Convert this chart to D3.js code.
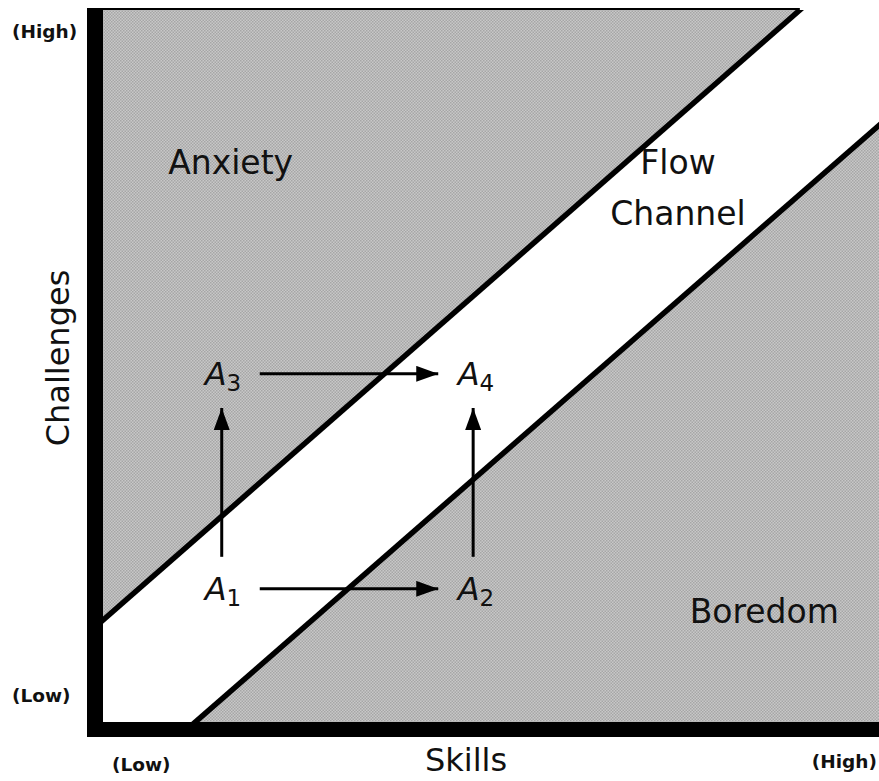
<!DOCTYPE html>
<html>
<head>
<meta charset="utf-8">
<script src="https://cdn.jsdelivr.net/npm/d3@7"></script>
<style>
  body { margin: 0; background: #fff; }
  svg text { font-family: "DejaVu Sans", sans-serif; fill: #111; }
</style>
</head>
<body>
<script>
// chart values (skill / challenge, 0..100)
const axisTitles = ["Skills", "Challenges"];
const tickLabels = ["(Low)", "(High)"];
const upperEdge = [[0, 14.3], [89.8, 100]];   // anxiety / flow border
const lowerEdge = [[11.9, 0], [100, 83.8]];   // flow / boredom border
const regions = [
  {lines: ["Anxiety"], x: 8.4, y: 76.9},
  {lines: ["Flow", "Channel"], x: 74.1, y: 76.9},
  {lines: ["Boredom"], x: 75.6, y: 13.9}
];
const states = [
  {id: "1", skill: 13.1, chal: 17.1},
  {id: "2", skill: 45.7, chal: 17.1},
  {id: "3", skill: 13.1, chal: 47.3},
  {id: "4", skill: 45.7, chal: 47.3}
];
const moves = [
  {x1: 20.2, y1: 18.7, x2: 43.2, y2: 18.7},
  {x1: 20.2, y1: 48.9, x2: 43.2, y2: 48.9},
  {x1: 15.3, y1: 23.2, x2: 15.3, y2: 44.1},
  {x1: 47.7, y1: 23.2, x2: 47.7, y2: 44.1}
];

const W = 879, H = 781;
const svg = d3.select('body').append('svg')
  .attr('width', W)
  .attr('height', H);

const x = d3.scaleLinear().domain([0, 100]).range([103, 879]);
const y = d3.scaleLinear().domain([0, 100]).range([722, 10]);

// dotted grey fill
const defs = svg.append('defs');
const pat = defs.append('pattern')
  .attr('id', 'dots')
  .attr('width', 3).attr('height', 3)
  .attr('patternUnits', 'userSpaceOnUse');
pat.append('rect').attr('width', 3).attr('height', 3).attr('fill', '#c8c8c8');
pat.append('rect').attr('width', 1.5).attr('height', 1.5).attr('fill', '#a6a6a6');
pat.append('rect').attr('x', 1.5).attr('y', 1.5).attr('width', 1.5).attr('height', 1.5).attr('fill', '#a6a6a6');

defs.append('clipPath').attr('id', 'plot')
  .append('rect')
  .attr('x', x(0)).attr('y', y(100))
  .attr('width', x(100) - x(0)).attr('height', y(0) - y(100));

defs.append('marker')
  .attr('id', 'head')
  .attr('markerUnits', 'userSpaceOnUse')
  .attr('viewBox', '0 -8 22 16')
  .attr('refX', 22).attr('refY', 0)
  .attr('markerWidth', 22).attr('markerHeight', 16)
  .attr('orient', 'auto')
  .append('path')
  .attr('d', 'M0,-8L22,0L0,8Z')
  .attr('fill', '#000');

svg.append('rect')
  .attr('x', x(0)).attr('y', y(100))
  .attr('width', x(100) - x(0)).attr('height', y(0) - y(100))
  .attr('fill', 'url(#dots)');

// white channel between the two borders
const ext = (p, q, t) => [p[0] + (q[0] - p[0]) * t, p[1] + (q[1] - p[1]) * t];
const band = [
  ext(upperEdge[0], upperEdge[1], -0.5),
  ext(upperEdge[0], upperEdge[1], 1.5),
  ext(lowerEdge[0], lowerEdge[1], 1.5),
  ext(lowerEdge[0], lowerEdge[1], -0.5)
];
const g = svg.append('g').attr('clip-path', 'url(#plot)');
g.append('path')
  .attr('d', d3.line().x(d => x(d[0])).y(d => y(d[1]))(band) + 'Z')
  .attr('fill', '#fff');

g.selectAll('line.edge')
  .data([upperEdge, lowerEdge])
  .enter()
  .append('line')
  .attr('class', 'edge')
  .attr('x1', d => x(ext(d[0], d[1], -0.1)[0]))
  .attr('y1', d => y(ext(d[0], d[1], -0.1)[1]))
  .attr('x2', d => x(ext(d[0], d[1], 1.1)[0]))
  .attr('y2', d => y(ext(d[0], d[1], 1.1)[1]))
  .attr('stroke', '#000')
  .attr('stroke-width', 5.5);

// frame
svg.append('line')
  .attr('x1', 87).attr('x2', x(upperEdge[1][0]))
  .attr('y1', y(100) - 1).attr('y2', y(100) - 1)
  .attr('stroke', '#000').attr('stroke-width', 2);
svg.append('rect')
  .attr('x', 87).attr('y', 8)
  .attr('width', x(0) - 87).attr('height', 737 - 8)
  .attr('fill', '#000');
svg.append('rect')
  .attr('x', 87).attr('y', y(0))
  .attr('width', W - 87).attr('height', 737 - y(0))
  .attr('fill', '#000');

// arrows
svg.selectAll('line.move')
  .data(moves)
  .enter()
  .append('line')
  .attr('class', 'move')
  .attr('x1', d => x(d.x1)).attr('y1', d => y(d.y1))
  .attr('x2', d => x(d.x2)).attr('y2', d => y(d.y2))
  .attr('stroke', '#000')
  .attr('stroke-width', 3)
  .attr('marker-end', 'url(#head)');

// states A1..A4
const st = svg.selectAll('text.state')
  .data(states)
  .enter()
  .append('text')
  .attr('class', 'state')
  .attr('x', d => x(d.skill))
  .attr('y', d => y(d.chal))
  .attr('font-size', 32);
st.append('tspan').attr('font-style', 'italic').text('A');
st.append('tspan').attr('font-size', 23).attr('dy', 6).text(d => d.id);

// region names
regions.forEach(r => {
  svg.append('text')
    .attr('x', x(r.x))
    .attr('y', y(r.y))
    .attr('font-size', 33)
    .attr('text-anchor', r.lines.length > 1 ? 'middle' : 'start')
    .selectAll('tspan')
    .data(r.lines)
    .enter()
    .append('tspan')
    .attr('x', x(r.x))
    .attr('dy', (d, i) => i ? 51 : 0)
    .text(d => d);
});

// axis titles
svg.append('text')
  .attr('x', 466).attr('y', 771)
  .attr('text-anchor', 'middle')
  .attr('font-size', 32)
  .text(axisTitles[0]);
svg.append('text')
  .attr('transform', 'translate(69,358) rotate(-90)')
  .attr('text-anchor', 'middle')
  .attr('font-size', 32)
  .text(axisTitles[1]);

// low / high marks
const marks = [
  {t: tickLabels[1], x: 12, y: 38, a: 'start'},
  {t: tickLabels[0], x: 12, y: 702, a: 'start'},
  {t: tickLabels[0], x: 112, y: 771, a: 'start'},
  {t: tickLabels[1], x: 877, y: 768, a: 'end'}
];
svg.selectAll('text.mark')
  .data(marks)
  .enter()
  .append('text')
  .attr('class', 'mark')
  .attr('x', d => d.x).attr('y', d => d.y)
  .attr('text-anchor', d => d.a)
  .attr('font-size', 18.5)
  .attr('font-weight', 'bold')
  .text(d => d.t);
</script>
</body>
</html>
